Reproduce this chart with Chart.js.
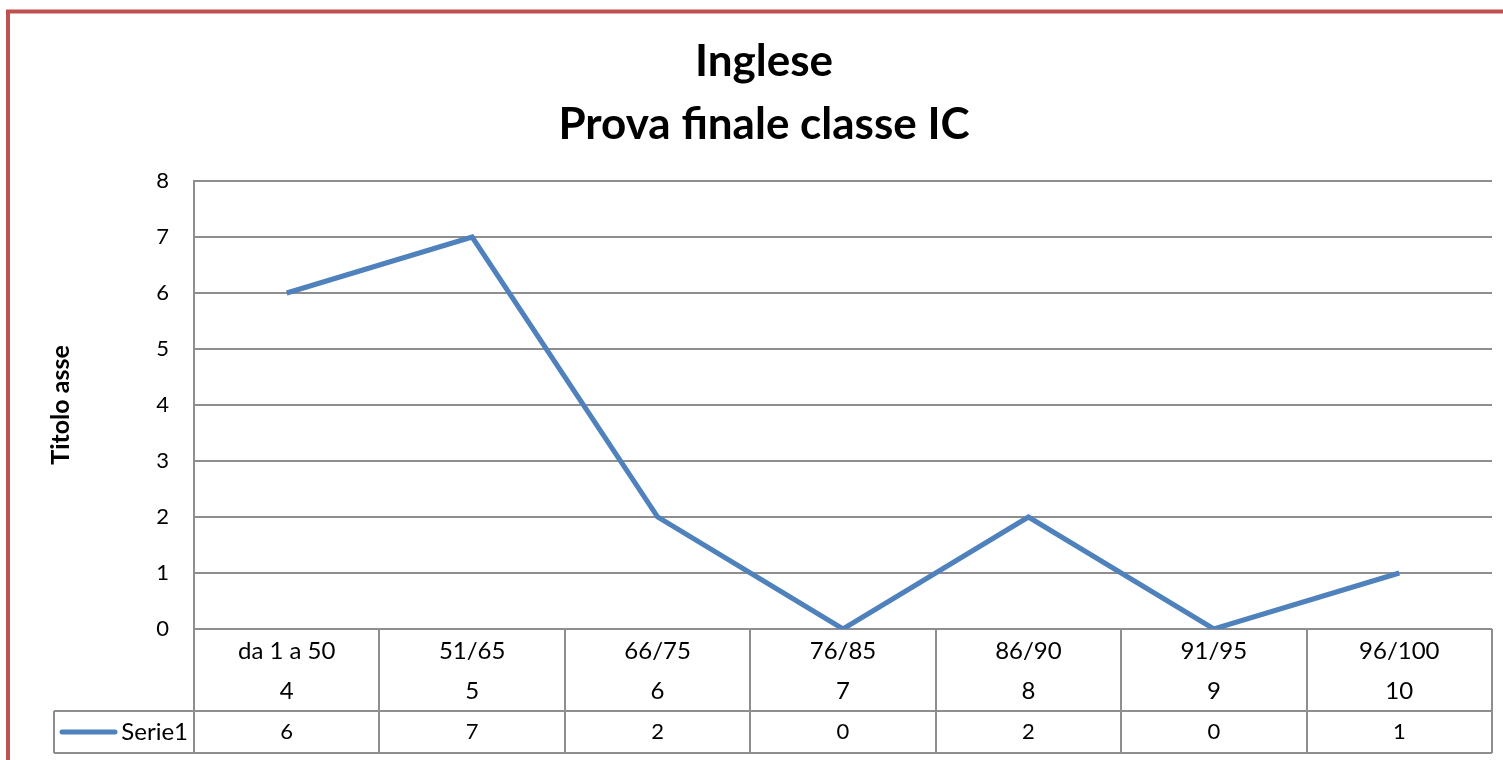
<!DOCTYPE html>
<html>
<head>
<meta charset="utf-8">
<script src="https://cdn.jsdelivr.net/npm/chart.js@4/dist/chart.umd.min.js"></script>
<style>
    html, body { margin: 0; padding: 0; background: #ffffff; }
    #wrap { width: 1503px; height: 760px; }
</style>
</head>
<body>
<div id="wrap"><canvas id="lineChart" width="1503" height="760"></canvas></div>
<script>
// Chart data
const categories = ['da 1 a 50', '51/65', '66/75', '76/85', '86/90', '91/95', '96/100'];
const grades = ['4', '5', '6', '7', '8', '9', '10'];
const serie1 = [6, 7, 2, 0, 2, 0, 1];
const seriesName = 'Serie1';
const titleLines = ['Inglese', 'Prova finale classe IC'];
const axisTitle = 'Titolo asse';

const FONT = "Lato, 'Open Sans', sans-serif";
const gridColor = '#8e8e8e';
const lineColor = '#4f81bd';

/**
 * Draws the Excel-style data table under the plot plus the frame
 */
const dataTablePlugin = {
    id: 'dataTable',
    beforeDraw(chart) {
        const ctx = chart.ctx;
        ctx.save();
        // chart frame (red, cropped on the left and top)
        ctx.strokeStyle = '#c0504d';
        ctx.lineWidth = 4;
        ctx.beginPath();
        ctx.moveTo(8, 800);
        ctx.lineTo(8, 11.5);
        ctx.lineTo(1600, 11.5);
        ctx.stroke();
        ctx.restore();
    },
    afterDraw(chart) {
        const ctx = chart.ctx;
        const x = chart.scales.x;
        const area = chart.chartArea;
        const step = x.getPixelForValue(1) - x.getPixelForValue(0);
        const rowTop = area.bottom + 82;
        const rowBottom = rowTop + 42;
        const legendLeft = 54;

        ctx.save();
        ctx.strokeStyle = gridColor;
        ctx.lineWidth = 2;
        ctx.beginPath();
        // vertical cell borders
        for (let i = 0; i <= categories.length; i++) {
            const px = Math.round(x.getPixelForValue(0) - step / 2 + i * step);
            ctx.moveTo(px, area.bottom);
            ctx.lineTo(px, rowBottom);
        }
        // horizontal borders
        ctx.moveTo(legendLeft, rowTop);
        ctx.lineTo(area.right, rowTop);
        ctx.moveTo(legendLeft, rowBottom);
        ctx.lineTo(area.right, rowBottom);
        ctx.moveTo(legendLeft, rowTop);
        ctx.lineTo(legendLeft, rowBottom);
        ctx.stroke();

        // legend key
        const midY = (rowTop + rowBottom) / 2;
        ctx.strokeStyle = lineColor;
        ctx.lineWidth = 5;
        ctx.lineCap = 'round';
        ctx.beginPath();
        ctx.moveTo(62, midY);
        ctx.lineTo(115, midY);
        ctx.stroke();

        ctx.fillStyle = '#000000';
        ctx.font = `24px ${FONT}`;
        ctx.textBaseline = 'middle';
        ctx.textAlign = 'right';
        ctx.fillText(seriesName, 188, midY);

        // values row
        ctx.font = `22px ${FONT}`;
        ctx.textAlign = 'center';
        serie1.forEach((v, i) => {
            ctx.fillText(String(v), x.getPixelForValue(i), midY);
        });
        ctx.restore();
    }
};

const ctx = document.getElementById('lineChart');
new Chart(ctx, {
    type: 'line',
    data: {
        labels: categories.map((c, i) => [c, grades[i]]),
        datasets: [{
            label: seriesName,
            data: serie1,
            borderColor: lineColor,
            borderWidth: 5,
            pointRadius: 0,
            tension: 0,
            fill: false
        }]
    },
    options: {
        responsive: false,
        animation: false,
        layout: {
            padding: { left: 36, right: 11, top: 0, bottom: 0 }
        },
        plugins: {
            legend: { display: false },
            tooltip: { enabled: false },
            title: {
                display: true,
                text: titleLines,
                color: '#000000',
                font: { family: FONT, size: 44, weight: 'bold', lineHeight: '63px' },
                padding: { top: 30, bottom: 25 }
            }
        },
        scales: {
            x: {
                offset: true,
                grid: { display: false, drawTicks: false },
                border: { display: false },
                ticks: {
                    color: '#000000',
                    padding: 2,
                    maxRotation: 0,
                    autoSkip: false,
                    font: { family: FONT, size: 24, lineHeight: '40px' }
                },
                afterFit: (scale) => { scale.height = 131; }
            },
            y: {
                min: 0,
                max: 8,
                ticks: {
                    stepSize: 1,
                    color: '#000000',
                    padding: 25,
                    font: { family: FONT, size: 22 }
                },
                grid: { color: gridColor, lineWidth: 2, drawTicks: false },
                border: { color: gridColor, width: 2 },
                title: {
                    display: true,
                    text: axisTitle,
                    color: '#000000',
                    font: { family: FONT, size: 25, weight: 'bold' },
                    padding: { top: 10, bottom: 0 }
                },
                afterFit: (scale) => { scale.width = 158; }
            }
        }
    },
    plugins: [dataTablePlugin]
});
</script>
</body>
</html>
